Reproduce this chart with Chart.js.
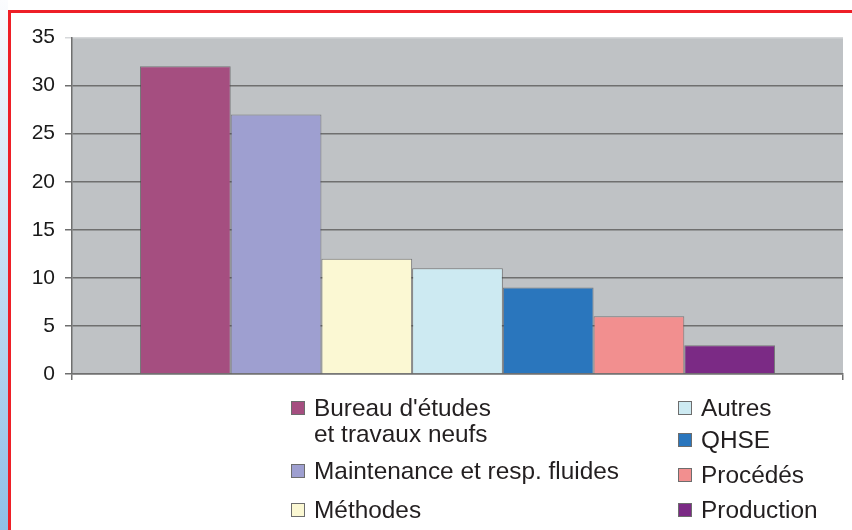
<!DOCTYPE html>
<html>
<head>
<meta charset="utf-8">
<script src="https://cdn.jsdelivr.net/npm/chart.js@4.4.1/dist/chart.umd.min.js"></script>
<style>
  body { margin: 0; background: #fff; width: 852px; height: 530px; overflow: hidden; position: relative; font-family: "Liberation Sans", Arial, sans-serif; }
  .strip { position: absolute; left: 0; top: 0; width: 8px; height: 530px; background: linear-gradient(#fbfcfe, #90bfe7); }
  .redv { position: absolute; left: 8px; top: 10px; width: 3px; height: 520px; background: #ee1f27; }
  .redh { position: absolute; left: 8px; top: 10px; width: 844px; height: 3px; background: #ee1f27; }
  #wrap { position: absolute; left: 0; top: 0; width: 852px; height: 530px; }
  .item { position: absolute; font-size: 24.4px; line-height: 26px; color: #231f20; white-space: pre; }
  .item .box { position: absolute; left: -23px; top: 6px; width: 14px; height: 14px; border: 1px solid #6d6d6d; box-sizing: border-box; }
</style>
</head>
<body>
<div class="strip"></div>
<div class="redv"></div>
<div class="redh"></div>
<div id="wrap"><canvas id="chart"></canvas></div>
<div id="legend"></div>
<script>
// data (one group, one dataset per service)
const services = ["Bureau d'études\net travaux neufs", "Maintenance et resp. fluides", "Méthodes", "Autres", "QHSE", "Procédés", "Production"];
const values = [32, 27, 12, 11, 9, 6, 3];
const colors = ["#a54e80", "#9e9fd0", "#fbf8d3", "#cdeaf2", "#2a76bd", "#f28f8f", "#7b2a85"];
const yMin = 0, yMax = 35, yStep = 5;

// where each legend entry sits (left, top) - two columns like the original
const legendPos = [[314, 395], [314, 458], [314, 497], [701, 395], [701, 427], [701, 462], [701, 497]];

const plotBg = {
    id: "plotBg",
    beforeDraw(chart) {
        const a = chart.chartArea, ctx = chart.ctx;
        ctx.save();
        ctx.fillStyle = "#bfc2c5";
        ctx.fillRect(a.left, a.top, a.right - a.left, a.bottom - a.top);
        ctx.restore();
    }
};

const chart = new Chart(document.getElementById("chart"), {
    type: "bar",
    data: {
        labels: [""],
        datasets: services.map((s, i) => ({
            label: s,
            data: [values[i]],
            backgroundColor: colors[i],
            borderColor: "rgba(70,70,70,0.6)",
            borderWidth: 1,
            barPercentage: 1,
            categoryPercentage: 0.8236
        }))
    },
    options: {
        responsive: true,
        maintainAspectRatio: false,
        animation: false,
        layout: { padding: { left: 0, top: 37.5, right: 9, bottom: 0 } },
        plugins: { legend: { display: false }, tooltip: { enabled: false } },
        scales: {
            x: {
                offset: true,
                grid: { display: true, drawOnChartArea: false, drawTicks: true, tickLength: 6, color: "#707070", lineWidth: 1.5 },
                border: { display: true, color: "#707070", width: 1.5 },
                ticks: { display: false },
                afterFit(s) { s.height = 156; }
            },
            y: {
                min: yMin,
                max: yMax,
                ticks: {
                    stepSize: yStep,
                    padding: 10,
                    color: "#1a1a1a",
                    font: { family: "'Liberation Sans', Arial, sans-serif", size: 21 }
                },
                grid: {
                    tickLength: 7,
                    lineWidth: 1.5,
                    color: ctx => ctx.tick && ctx.tick.value === yMax ? "#d6d8da" : "#6f6f6f"
                },
                border: { color: "#6f6f6f", width: 1.5 },
                afterFit(s) { s.width = 72; }
            }
        }
    },
    plugins: [plotBg]
});

// html legend built from the chart datasets
const legend = document.getElementById("legend");
chart.data.datasets.forEach((ds, i) => {
    const el = document.createElement("div");
    el.className = "item";
    el.style.left = legendPos[i][0] + "px";
    el.style.top = legendPos[i][1] + "px";
    const box = document.createElement("span");
    box.className = "box";
    box.style.background = ds.backgroundColor;
    el.appendChild(box);
    el.appendChild(document.createTextNode(ds.label));
    legend.appendChild(el);
});
</script>
</body>
</html>
